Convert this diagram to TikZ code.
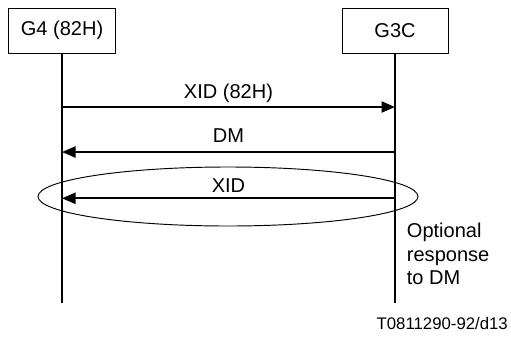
\documentclass[tikz,border=0pt]{standalone}
\usepackage{fontspec}
\setmainfont{Liberation Sans}
\usepackage{tikz}
\usetikzlibrary{shapes, arrows.meta, positioning}
\newcommand{\lblfont}{\fontsize{19}{22.5}\selectfont}
\newcommand{\reffont}{\fontsize{15.9}{19}\selectfont}
\tikzset{
    normal/.style={draw, line width=0.9pt},
    ent/.style={style=normal, minimum height=1.5cm, inner sep=0}, % entity boxes on top
    life/.style={line width=1.8pt}, % lifelines
    msg/.style={line width=1.8pt, -{Triangle[length=4.5mm, width=3.7mm]}}, % messages
    lbl/.style={anchor=base, inner sep=0} % message labels
}
\tikzstyle{opt}=[style=normal, ellipse, inner sep=0]

\begin{document}
\begin{tikzpicture}[font=\lblfont]
        \useasboundingbox (0, 0) rectangle (17.033, -11.4);
        \node[ent, minimum width=3.567cm] (g4) at (2.067, -1.017) {G4 (82H)};
        \node[ent, minimum width=3.533cm] (g3c) at (13.167, -1.017) {G3C};

        \coordinate (g4_end) at (2.067, -10.1);
        \coordinate (g3c_end) at (13.167, -10.1);
        \draw[life] (g4) to (g4_end);
        \draw[life] (g3c) to (g3c_end);

        \coordinate (g4_1) at (2.067, -3.567);
        \coordinate (g3c_1) at (13.167, -3.567);
        \coordinate (g4_2) at (2.067, -5.067);
        \coordinate (g3c_2) at (13.167, -5.067);
        \coordinate (g4_3) at (2.067, -6.61);
        \coordinate (g3c_3) at (13.167, -6.61);
        \draw[msg] (g4_1) to node[lbl, yshift=0.3cm] {XID (82H)} (g3c_1);
        \draw[msg] (g3c_2) to node[lbl, yshift=0.333cm] {DM} (g4_2);
        \draw[msg] (g3c_3) to node[lbl, yshift=0.177cm] {XID} (g4_3);

        \node[opt, minimum width=12.667cm, minimum height=1.967cm] (optional) at (7.6, -6.55) {};
        \node[anchor=north west, align=left, inner sep=0] (note) at (13.557, -7.42) {Optional\\response\\to DM};

        \node[anchor=base east, inner sep=0, font=\reffont] (ref) at (16.933, -10.967) {T0811290-92/d13};
      \end{tikzpicture}
\end{document}
